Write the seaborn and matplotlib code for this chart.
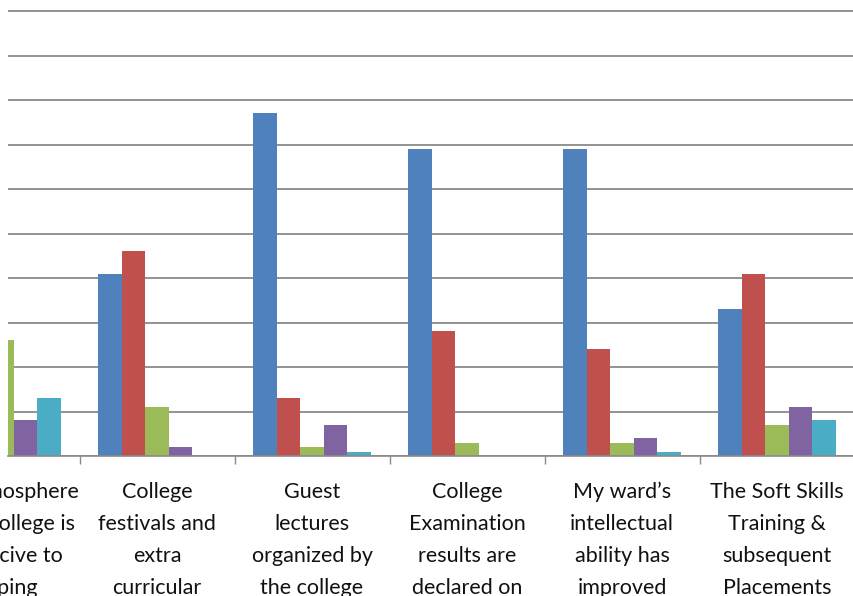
import pandas as pd
import matplotlib
matplotlib.use("Agg")
import matplotlib.pyplot as plt
import matplotlib.transforms as mtransforms
import seaborn as sb

# Survey statements (first one is only partly visible in the reference)
statements = [
    "The atmosphere\nin the college is\nconducive to\nshaping",
    "College\nfestivals and\nextra\ncurricular\nactivities",
    "Guest\nlectures\norganized by\nthe college\nare useful",
    "College\nExamination\nresults are\ndeclared on\ntime",
    "My ward\u2019s\nintellectual\nability has\nimproved\nconsiderably",
    "The Soft Skills\nTraining &\nsubsequent\nPlacements\nare good",
]
responses = ["Strongly Agree", "Agree", "Neutral", "Disagree", "Strongly Disagree"]

# Percent of respondents per statement
strongly_agree = [30, 41, 77, 69, 69, 33]
agree = [23, 46, 13, 28, 24, 41]
neutral = [26, 11, 2, 3, 3, 7]
disagree = [8, 2, 7, 0, 4, 11]
strongly_disagree = [13, 0, 1, 0, 1, 8]

colors = ["#4F81BD", "#C0504D", "#9BBB59", "#8064A2", "#4BACC6"]

rows = []
for resp, vals in zip(responses, [strongly_agree, agree, neutral, disagree, strongly_disagree]):
    for i, v in enumerate(vals):
        rows.append({"statement": i, "response": resp, "percent": v})
df = pd.DataFrame(rows)

fig = plt.figure(figsize=(8.54, 5.96), dpi=100)
# axes run a little above the 100% line so the top gridline is not clipped
ax = fig.add_axes([8 / 854, 140 / 596, 846 / 854, 449.45 / 596])

sb.barplot(data=df, x="statement", y="percent", hue="response",
           hue_order=responses, palette=colors, width=0.76,
           linewidth=0, saturation=1, legend=False, ax=ax)

ax.set_ylim(0, 101)
ax.set_xlim(6 / 155, 852 / 155)
ax.set_yticks(range(0, 101, 10))
ax.yaxis.grid(True, color="#8a8a8a", linewidth=1.3)
ax.set_axisbelow(True)
ax.tick_params(axis="y", left=False, labelleft=False)

# tick marks between categories, labels drawn as text
ax.set_xticks([i + 0.5 for i in range(len(statements) - 1)])
ax.set_xticklabels([])
ax.tick_params(axis="x", direction="out", length=6, width=1, color="#8a8a8a")
ax.set_xlabel("")
ax.set_ylabel("")

for side in ["left", "top", "right"]:
    ax.spines[side].set_visible(False)
ax.spines["bottom"].set_color("#8a8a8a")
ax.spines["bottom"].set_linewidth(1.2)

trans = mtransforms.blended_transform_factory(ax.transData, ax.transAxes)
for i, label in enumerate(statements):
    ax.text(i, -0.057, label, transform=trans, ha="center", va="top",
            fontsize=15.5, linespacing=1.76, clip_on=False,
            family=["Lato", "DejaVu Sans"], color="#111111")

fig.savefig("out.png", dpi=100)
